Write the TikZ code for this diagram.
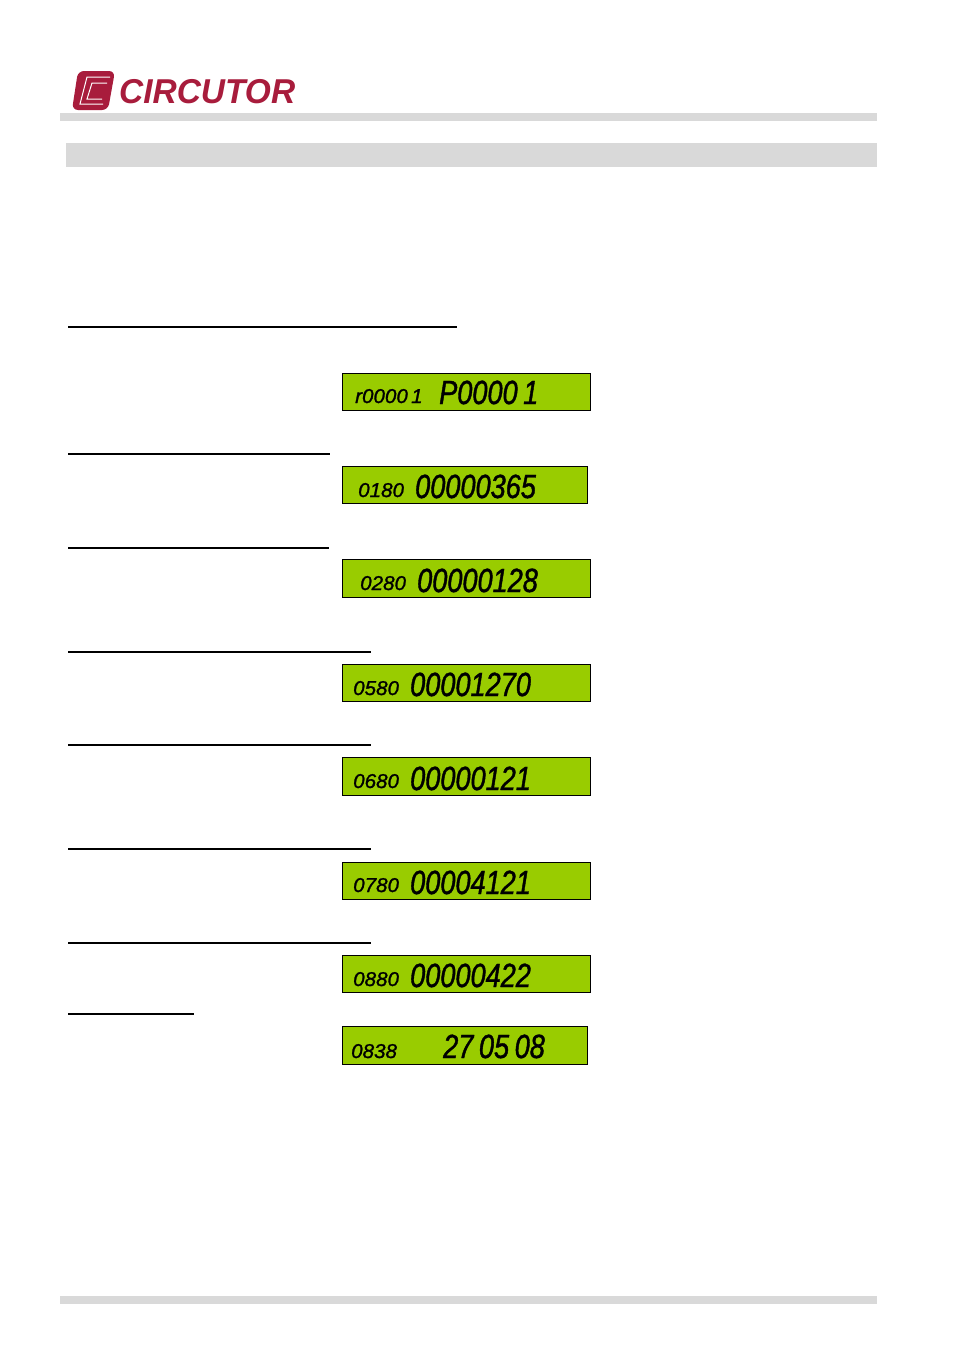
\documentclass[tikz,border=0pt]{standalone}
\usepackage{fontspec}
\usepackage{tikz}
\usetikzlibrary{positioning}

\newfontfamily\lcdbigfont[FakeStretch=0.81,FakeBold=1.2]{Liberation Sans}
\newfontfamily\lcdsmallfont[FakeStretch=1.03,FakeBold=1.2]{Liberation Sans}
\newfontfamily\logofont[FakeStretch=0.97]{Liberation Sans}

\definecolor{lcdgreen}{HTML}{99CC00}
\definecolor{bargray}{HTML}{D9D9D9}
\definecolor{logored}{HTML}{A81C3C}

\tikzset{
  screen/.style={draw=black, fill=lcdgreen, line width=1pt, anchor=north west, inner sep=0pt},
  bigdigits/.style={anchor=base west, inner sep=0pt, font=\lcdbigfont\itshape\fontsize{33.5}{34}\selectfont},
  smalldigits/.style={anchor=base west, inner sep=0pt, font=\lcdsmallfont\itshape\fontsize{20}{21}\selectfont},
  bar/.style={fill=bargray, draw=none},
  blankrule/.style={draw=black, line width=2pt}
}

\begin{document}
\begin{tikzpicture}[x=1pt, y=-1pt]

  \useasboundingbox [fill=white] (0,0) rectangle (954,1350) ;

  % page furniture
  \fill [bar] (60,113) rectangle (877,121) ;
  \fill [bar] (66,143) rectangle (877,167) ;
  \fill [bar] (60,1296) rectangle (877,1304) ;

  % logo
  \fill [logored, rounded corners=6pt] (78,71) -- (115,71) -- (108,110) -- (72,110) -- cycle ;
  \draw [white, line width=1pt] (110,77) -- (87,77) -- (80,104) -- (103,104) ;
  \draw [white, line width=1pt] (107,83) -- (92,83) -- (87,99) -- (102,99) ;
  \node [anchor=base west, inner sep=0pt, text=logored, font=\logofont\bfseries\itshape\fontsize{34.5}{35}\selectfont] (brand) at (119,103) {CIRCUTOR} ;

  % rules over the blank headings
  \coordinate (r1a) at (68,327) ; \coordinate (r1b) at (457,327) ;
  \coordinate (r2a) at (68,454) ; \coordinate (r2b) at (330,454) ;
  \coordinate (r3a) at (68,548) ; \coordinate (r3b) at (329,548) ;
  \coordinate (r4a) at (68,652) ; \coordinate (r4b) at (371,652) ;
  \coordinate (r5a) at (68,745) ; \coordinate (r5b) at (371,745) ;
  \coordinate (r6a) at (68,849) ; \coordinate (r6b) at (371,849) ;
  \coordinate (r7a) at (68,943) ; \coordinate (r7b) at (371,943) ;
  \coordinate (r8a) at (68,1014) ; \coordinate (r8b) at (194,1014) ;
  \foreach \n in {1,...,8}
    \draw [blankrule] (r\n a) -- (r\n b) ;

  % screens
  \node [screen, minimum width=248pt, minimum height=37pt] (s1) at (342,373) {} ;
  \node [screen, minimum width=245pt, minimum height=37pt] (s2) at (342,466) {} ;
  \node [screen, minimum width=248pt, minimum height=38pt] (s3) at (342,559) {} ;
  \node [screen, minimum width=248pt, minimum height=37pt] (s4) at (342,664) {} ;
  \node [screen, minimum width=248pt, minimum height=38pt] (s5) at (342,757) {} ;
  \node [screen, minimum width=248pt, minimum height=37pt] (s6) at (342,862) {} ;
  \node [screen, minimum width=248pt, minimum height=37pt] (s7) at (342,955) {} ;
  \node [screen, minimum width=245pt, minimum height=38pt] (s8) at (342,1026) {} ;

  % small readings
  \node [smalldigits] (a1) at (355,403) {r0000\,1} ;
  \node [smalldigits] (a2) at (358,497) {0180} ;
  \node [smalldigits] (a3) at (360,590) {0280} ;
  \node [smalldigits] (a4) at (353,695) {0580} ;
  \node [smalldigits] (a5) at (353,788) {0680} ;
  \node [smalldigits] (a6) at (353,892) {0780} ;
  \node [smalldigits] (a7) at (353,986) {0880} ;
  \node [smalldigits] (a8) at (351,1058) {0838} ;

  % big readings
  \node [bigdigits] (b1) at (439,404) {P0000\,1} ;
  \node [bigdigits] (b2) at (415,498) {00000365} ;
  \node [bigdigits] (b3) at (417,592) {00000128} ;
  \node [bigdigits] (b4) at (410,696) {00001270} ;
  \node [bigdigits] (b5) at (410,790) {00000121} ;
  \node [bigdigits] (b6) at (410,894) {00004121} ;
  \node [bigdigits] (b7) at (410,987) {00000422} ;
  \node [bigdigits] (b8) at (443,1058) {27\,05\,08} ;

\end{tikzpicture}
\end{document}
